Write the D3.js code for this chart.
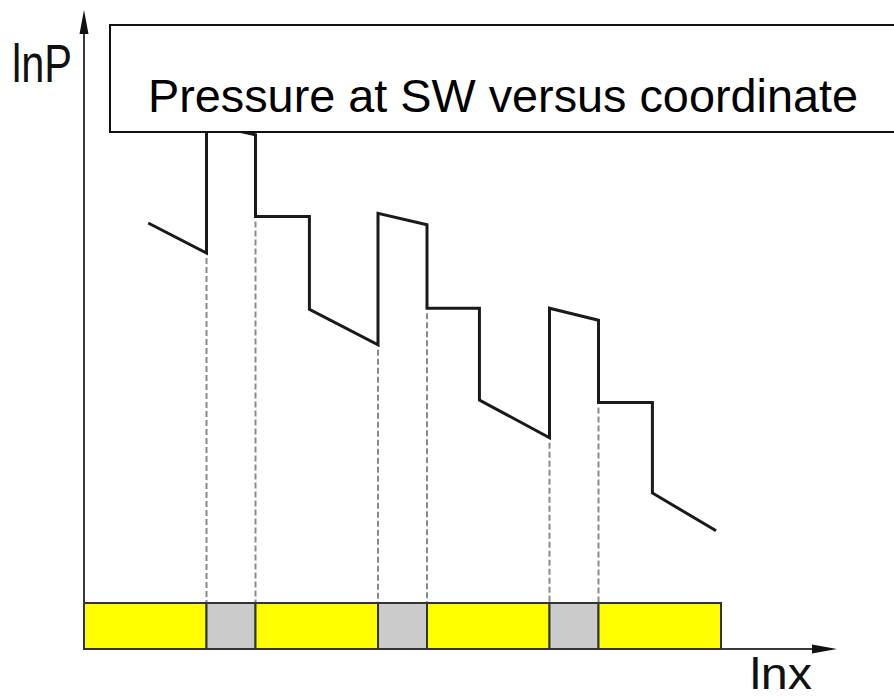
<!DOCTYPE html>
<html>
<head>
<meta charset="utf-8">
<script src="https://cdn.jsdelivr.net/npm/d3@7"></script>
<style>
  html, body { margin: 0; padding: 0; background: #fff; }
  svg { display: block; }
</style>
</head>
<body>
<svg id="chart" width="894" height="700"></svg>
<script>
// ---- data ----
const zoneStart = [0, 2.5, 3.5, 6, 7, 9.5, 10.5];
const zoneEnd   = [2.5, 3.5, 6, 7, 9.5, 10.5, 13];
const zoneType  = ["body", "gap", "body", "gap", "body", "gap", "body"];

const lnxValues = [1.31, 2.5, 2.5, 3.5, 3.5, 4.6, 4.6, 6, 6, 7, 7, 8.07, 8.07, 9.5, 9.5, 10.5, 10.5, 11.6, 11.6, 12.9];
const lnPValues = [7.10, 6.60, 8.75, 8.57, 7.21, 7.21, 5.66, 5.07, 7.26, 7.07, 5.68, 5.68, 4.15, 3.52, 5.68, 5.48, 4.11, 4.11, 2.60, 1.97];

const boundaries = [2.5, 3.5, 6, 7, 9.5, 10.5];

const titleText = "Pressure at SW versus coordinate";
const yLabel = "lnP";
const xLabel = "lnx";

// ---- layout ----
const svg = d3.select("#chart");
const x = d3.scaleLinear().domain([0, 13]).range([84, 721]);
const y = d3.scaleLinear().domain([0, 10]).range([649, 49]);
const barH = 46;
const axisColor = "#3a3a3a";

// y axis line + arrow
svg.append("line")
  .attr("x1", x(0)).attr("x2", x(0))
  .attr("y1", y(0)).attr("y2", 30)
  .attr("stroke", axisColor).attr("stroke-width", 2);
svg.append("path")
  .attr("d", `M${x(0)},10 L${x(0) - 4.5},34 L${x(0) + 4.5},34 Z`)
  .attr("fill", "#111");

// x axis line + arrow
svg.append("line")
  .attr("x1", x(0)).attr("x2", 816)
  .attr("y1", y(0)).attr("y2", y(0))
  .attr("stroke", axisColor).attr("stroke-width", 2);
svg.append("path")
  .attr("d", `M837,${y(0)} L812,${y(0) - 4.5} L812,${y(0) + 4.5} Z`)
  .attr("fill", "#111");

// dashed guide lines
const guideTop = boundaries.map(b => d3.min(lnxValues.map((v, i) => v === b ? lnPValues[i] : Infinity)));
svg.selectAll("line.guide")
  .data(boundaries)
  .join("line")
  .attr("class", "guide")
  .attr("x1", d => x(d)).attr("x2", d => x(d))
  .attr("y1", (d, i) => y(guideTop[i]) + 5)
  .attr("y2", y(0) - barH)
  .attr("stroke", "#8a8a8a").attr("stroke-width", 2)
  .attr("stroke-dasharray", "6,3");

// zone strip
svg.selectAll("rect.zone")
  .data(zoneStart)
  .join("rect")
  .attr("class", "zone")
  .attr("x", d => x(d))
  .attr("y", y(0) - barH)
  .attr("width", (d, i) => x(zoneEnd[i]) - x(d))
  .attr("height", barH)
  .attr("fill", (d, i) => zoneType[i] === "body" ? "#ffff00" : "#cbcbcb")
  .attr("stroke", "#333").attr("stroke-width", 2);

// pressure line
const pts = lnxValues.map((v, i) => [v, lnPValues[i]]);
svg.append("path")
  .datum(pts)
  .attr("d", d3.line().x(d => x(d[0])).y(d => y(d[1])))
  .attr("fill", "none")
  .attr("stroke", "#1a1a1a")
  .attr("stroke-width", 3)
  .attr("stroke-linejoin", "miter");

// title box (covers top of line)
svg.append("rect")
  .attr("x", 110).attr("y", 25)
  .attr("width", 800).attr("height", 107)
  .attr("fill", "#fff")
  .attr("stroke", "#111").attr("stroke-width", 2);
svg.append("text")
  .attr("x", 148).attr("y", 112)
  .attr("font-family", "Liberation Sans, Arial, sans-serif")
  .attr("font-size", 47)
  .attr("textLength", 710)
  .attr("lengthAdjust", "spacingAndGlyphs")
  .attr("fill", "#000")
  .text(titleText);

// axis labels
svg.append("text")
  .attr("x", 12).attr("y", 82)
  .attr("font-family", "Liberation Sans, Arial, sans-serif")
  .attr("font-size", 53)
  .attr("textLength", 60)
  .attr("lengthAdjust", "spacingAndGlyphs")
  .attr("fill", "#111")
  .text(yLabel);
svg.append("text")
  .attr("x", 750).attr("y", 689)
  .attr("font-family", "Liberation Sans, Arial, sans-serif")
  .attr("font-size", 44)
  .attr("textLength", 62)
  .attr("lengthAdjust", "spacingAndGlyphs")
  .attr("fill", "#111")
  .text(xLabel);
</script>
</body>
</html>
